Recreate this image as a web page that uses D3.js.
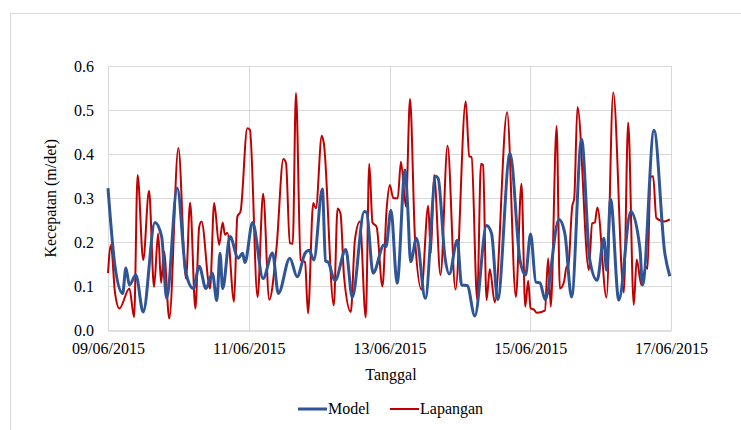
<!DOCTYPE html>
<html lang="en">
  <head>
    <meta charset="UTF-8" />
    <title>Kecepatan</title>
    <style>
      body { margin: 0; background: #fff; }
      #chart { width: 741px; height: 430px; }
      text { font-family: "Liberation Serif", "Times New Roman", serif; fill: #000; }
    </style>
  </head>
  <body>
    <div id="chart"></div>
    <script src="https://cdn.jsdelivr.net/npm/d3@7"></script>
    <script>
      // hours after 09/06/2015 00:00
      var modelHours = [0, 2.4, 5.0, 6.1, 7.3, 9.5, 12.0, 16.0, 18.3, 20.0, 23.6, 26.6, 29.1, 31.1, 33.4, 35.6, 37.1, 38.2, 39.1, 41.6,
        44.4, 45.9, 46.7, 49.3, 52.9, 56.1, 58.1, 62.0, 64.5, 67.2, 68.6, 70.2, 73.1, 74.2, 75.1, 77.4, 81.1, 83.3, 87.4, 88.2,
        90.4, 94.1, 94.8, 96.5, 98.6, 101.3, 102.2, 103.2, 105.2, 108.2, 111.8, 112.6, 114.9, 116.4, 119.1, 120.6, 122.5, 125.1, 129.1, 130.8,
        132.9, 137.1, 140.5, 142.4, 144.1, 145.9, 147.3, 149.1, 153.8, 155.8, 158.1, 161.5, 164.3, 166.8, 169.1, 170.0, 171.4, 174.2, 178.3, 181.4,
        182.3, 186.2, 189.9, 191.6];
      var modelValues = [0.323, 0.145, 0.084, 0.142, 0.103, 0.126, 0.042, 0.245, 0.213, 0.073, 0.323, 0.13, 0.095, 0.146, 0.095, 0.13, 0.068, 0.175, 0.095, 0.213,
        0.164, 0.175, 0.154, 0.245, 0.118, 0.176, 0.084, 0.164, 0.122, 0.175, 0.182, 0.16, 0.321, 0.158, 0.155, 0.113, 0.184, 0.075, 0.27, 0.268,
        0.13, 0.194, 0.19, 0.273, 0.107, 0.364, 0.281, 0.156, 0.209, 0.073, 0.35, 0.345, 0.167, 0.128, 0.205, 0.103, 0.102, 0.033, 0.238, 0.22,
        0.07, 0.402, 0.16, 0.126, 0.219, 0.11, 0.108, 0.07, 0.252, 0.22, 0.076, 0.434, 0.16, 0.114, 0.209, 0.137, 0.298, 0.069, 0.27, 0.186,
        0.103, 0.454, 0.175, 0.123];

      var fieldHours = [0, 1.0, 2.4, 3.9, 7.3, 8.9, 10.1, 12.0, 14.0, 15.7, 17.1, 18.1, 19.1, 20.9, 24.0, 26.6, 28.0, 29.8, 31.1, 31.9,
        34.8, 36.2, 37.9, 39.1, 39.9, 40.7, 43.0, 44.1, 45.2, 47.5, 48.4, 51.0, 52.9, 55.0, 57.5, 59.8, 60.7, 62.0, 63.0, 64.1,
        65.7, 67.2, 68.2, 70.0, 70.9, 72.9, 73.6, 77.0, 78.3, 79.3, 80.5, 82.8, 84.2, 85.9, 87.9, 89.1, 90.2, 91.6, 93.6, 95.0,
        96.1, 97.3, 98.8, 99.9, 101.6, 103.0, 104.7, 106.9, 109.2, 110.1, 111.2, 113.4, 115.8, 118.5, 122.0, 123.2, 124.0, 125.9, 127.2, 127.9,
        129.1, 130.2, 131.9, 136.1, 139.1, 141.0, 142.3, 143.3, 144.1, 145.2, 146.2, 149.0, 150.1, 151.0, 153.0, 154.1, 155.5, 156.4, 156.9, 158.3,
        159.0, 160.1, 164.0, 165.1, 166.0, 166.9, 170.0, 172.3, 175.9, 177.4, 179.3, 180.3, 181.9, 183.4, 184.0, 185.0, 185.9, 187.0, 189.7, 191.6];
      var fieldValues = [0.13, 0.194, 0.085, 0.05, 0.095, 0.03, 0.353, 0.16, 0.317, 0.099, 0.22, 0.108, 0.179, 0.027, 0.414, 0.118, 0.29, 0.05, 0.235, 0.247,
        0.095, 0.289, 0.194, 0.245, 0.217, 0.222, 0.065, 0.258, 0.27, 0.459, 0.455, 0.076, 0.31, 0.07, 0.19, 0.389, 0.38, 0.198, 0.197, 0.539,
        0.16, 0.155, 0.039, 0.289, 0.277, 0.442, 0.425, 0.057, 0.277, 0.265, 0.122, 0.042, 0.205, 0.247, 0.03, 0.378, 0.245, 0.235, 0.1, 0.273,
        0.33, 0.3, 0.3, 0.383, 0.281, 0.525, 0.209, 0.093, 0.283, 0.175, 0.353, 0.126, 0.419, 0.093, 0.52, 0.395, 0.393, 0.07, 0.378, 0.375,
        0.069, 0.139, 0.064, 0.495, 0.076, 0.333, 0.054, 0.113, 0.05, 0.048, 0.04, 0.045, 0.164, 0.054, 0.464, 0.095, 0.11, 0.145, 0.143, 0.281,
        0.3, 0.507, 0.137, 0.243, 0.245, 0.279, 0.075, 0.54, 0.086, 0.472, 0.058, 0.161, 0.103, 0.145, 0.14, 0.349, 0.35, 0.255, 0.247, 0.252];

      var yTicks = [0, 0.1, 0.2, 0.3, 0.4, 0.5, 0.6];
      var xTickLabels = ["09/06/2015", "11/06/2015", "13/06/2015", "15/06/2015", "17/06/2015"];
      var seriesNames = ["Model", "Lapangan"];

      var parseDay = d3.timeParse("%d/%m/%Y");
      var start = parseDay(xTickLabels[0]);
      var end = parseDay(xTickLabels[xTickLabels.length - 1]);

      function toPoints(hours, values) {
        return hours.map(function (h, i) {
          return { t: d3.timeMinute.offset(start, Math.round(h * 60)), v: values[i] };
        });
      }
      var model = toPoints(modelHours, modelValues);
      var field = toPoints(fieldHours, fieldValues);

      var plotLeft = 108, plotRight = 671, plotTop = 66, plotBottom = 330.5;

      var svg = d3.select("#chart").append("svg").attr("width", 741).attr("height", 430);

      // outer chart frame
      svg.append("rect")
        .attr("x", 10.5).attr("y", 13.5)
        .attr("width", 760).attr("height", 440)
        .attr("fill", "none").attr("stroke", "#d9d9d9");

      var x = d3.scaleTime().domain([start, end]).range([plotLeft, plotRight]);
      var y = d3.scaleLinear().domain([0, 0.6]).range([plotBottom, plotTop]);

      // gridlines
      svg.append("g").selectAll("line").data(yTicks.slice(1)).enter().append("line")
        .attr("x1", plotLeft).attr("x2", plotRight)
        .attr("y1", function (d) { return Math.round(y(d)) + 0.5; })
        .attr("y2", function (d) { return Math.round(y(d)) + 0.5; })
        .attr("stroke", "#d9d9d9");

      var xTicks = xTickLabels.map(parseDay);
      svg.append("g").selectAll("line").data(xTicks).enter().append("line")
        .attr("x1", function (d) { return Math.round(x(d)) + 0.5; })
        .attr("x2", function (d) { return Math.round(x(d)) + 0.5; })
        .attr("y1", plotTop).attr("y2", plotBottom)
        .attr("stroke", "#d9d9d9");

      // axes
      var yAxis = svg.append("g")
        .attr("transform", "translate(" + plotLeft + ",0)")
        .call(d3.axisLeft(y).tickValues(yTicks).tickFormat(d3.format(".1f")).tickSize(0).tickPadding(14));
      yAxis.select(".domain").remove();
      yAxis.selectAll("text").attr("font-size", 16).attr("font-family", "Liberation Serif");

      var xAxis = svg.append("g")
        .attr("transform", "translate(0," + plotBottom + ")")
        .call(d3.axisBottom(x).tickValues(xTicks).tickFormat(d3.timeFormat("%d/%m/%Y")).tickSize(0).tickPadding(12));
      xAxis.select(".domain").attr("stroke", "#bfbfbf");
      xAxis.selectAll("text").attr("font-size", 16).attr("font-family", "Liberation Serif");

      // lines
      var line = d3.line()
        .curve(d3.curveMonotoneX)
        .x(function (d) { return x(d.t); })
        .y(function (d) { return y(d.v); });

      svg.append("path").datum(field)
        .attr("fill", "none").attr("stroke", "#c00000").attr("stroke-width", 2)
        .attr("stroke-linejoin", "round")
        .attr("d", line);

      svg.append("path").datum(model)
        .attr("fill", "none").attr("stroke", "#2f5597").attr("stroke-width", 3)
        .attr("stroke-linejoin", "round")
        .attr("d", line);

      // titles
      svg.append("text")
        .attr("x", 391).attr("y", 380)
        .attr("text-anchor", "middle").attr("font-size", 16)
        .text("Tanggal");

      svg.append("text")
        .attr("transform", "translate(56," + (plotTop + plotBottom) / 2 + ") rotate(-90)")
        .attr("text-anchor", "middle").attr("font-size", 16)
        .text("Kecepatan (m/det)");

      // legend
      var legend = svg.append("g").attr("transform", "translate(298,409)");
      var legendColors = ["#2f5597", "#c00000"];
      var legendX = [0, 92];
      seriesNames.forEach(function (name, i) {
        legend.append("line")
          .attr("x1", legendX[i]).attr("x2", legendX[i] + 29)
          .attr("y1", 0).attr("y2", 0)
          .attr("stroke", legendColors[i]).attr("stroke-width", i === 0 ? 3 : 2);
        legend.append("text")
          .attr("x", legendX[i] + 30).attr("y", 5)
          .attr("font-size", 16)
          .text(name);
      });
    </script>
  </body>
</html>
